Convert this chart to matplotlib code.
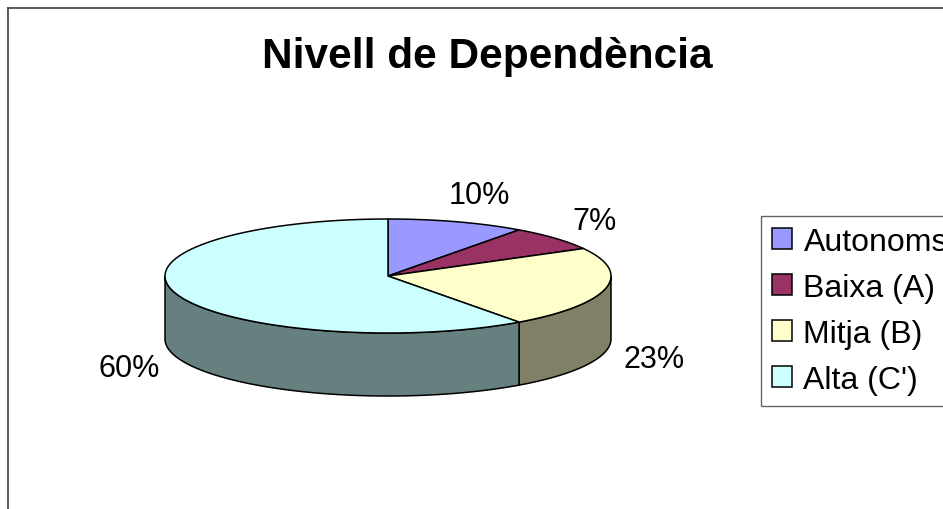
import numpy as np
import matplotlib
matplotlib.use("Agg")
import matplotlib.pyplot as plt
from matplotlib.patches import Polygon, Patch
from matplotlib.lines import Line2D

plt.rcParams['font.family'] = ['Liberation Sans', 'DejaVu Sans']

# Data
categories = ['Autonoms', 'Baixa (A)', 'Mitja (B)', "Alta (C')"]
values = [10, 7, 23, 60]
top_colors = ['#9999FF', '#993366', '#FFFFCC', '#CCFFFF']
side_colors = ['#4D4D80', '#4D1A33', '#808066', '#668080']
title = 'Nivell de Dependència'

W, H = 943, 510
fig = plt.figure(figsize=(W / 100, H / 100), dpi=100)

# chart area border (extends past the right/bottom edges)
fig.add_artist(Line2D([8 / W, 8 / W], [0, 1 - 9 / H], color='#404040', lw=1.2))
fig.add_artist(Line2D([8 / W, 1], [1 - 9 / H, 1 - 9 / H], color='#404040', lw=1.2))

fig.text(487 / W, 1 - 68 / H, title, ha='center', va='baseline',
         fontsize=30.5, fontweight='bold')

# 3D pie: unit radius in x, squashed in y, with a depth
k = 57 / 223      # vertical squash
d = 63 / 223      # depth of the side
ax = fig.add_axes([165 / W, 1 - 397 / H, 446 / W, 177 / H])
ax.set_xlim(-1, 1)
ax.set_ylim(-k - d, k)
ax.axis('off')

fracs = np.array(values, dtype=float) / sum(values)
edges = np.concatenate([[0], np.cumsum(fracs)]) * 2 * np.pi


def arc(t1, t2, z=0.0, n=120):
    t = np.linspace(t1, t2, n)
    return np.column_stack([np.sin(t), k * np.cos(t) + z])


# sides (front half only: angles between 90 and 270 deg, clockwise from top)
for i in range(len(values)):
    t1 = max(edges[i], np.pi / 2)
    t2 = min(edges[i + 1], 3 * np.pi / 2)
    if t2 <= t1:
        continue
    pts = np.vstack([arc(t1, t2), arc(t2, t1, -d)])
    ax.add_patch(Polygon(pts, closed=True, facecolor=side_colors[i],
                         edgecolor='black', lw=1.1, clip_on=False, zorder=1))

# top faces
for i in range(len(values)):
    pts = np.vstack([[0, 0], arc(edges[i], edges[i + 1])])
    ax.add_patch(Polygon(pts, closed=True, facecolor=top_colors[i],
                         edgecolor='black', lw=1.1, clip_on=False, zorder=2))

# percentage labels outside the pie
for i, v in enumerate(values):
    mid = (edges[i] + edges[i + 1]) / 2
    s, c = np.sin(mid), np.cos(mid)
    lx = 1.17 * s + 0.05 * np.sign(s)
    ly = 0.4 * c
    if c < 0:
        ly = 0.42 * c - 0.94 * d
    ax.text(lx, ly, f'{v}%', ha='center', va='center_baseline', fontsize=22,
            clip_on=False)

handles = [Patch(facecolor=c, edgecolor='black', lw=1.1) for c in top_colors]
leg = fig.legend(handles, categories, loc='upper left',
                 bbox_to_anchor=(761 / W, 1 - 217 / H), fontsize=23,
                 frameon=True, fancybox=False, handlelength=0.63,
                 handleheight=0.63, handletextpad=0.35, labelspacing=0.5,
                 borderpad=0.35, borderaxespad=0)
leg.get_frame().set_edgecolor('#404040')
leg.get_frame().set_linewidth(1.0)

fig.savefig('out.png', dpi=100)
